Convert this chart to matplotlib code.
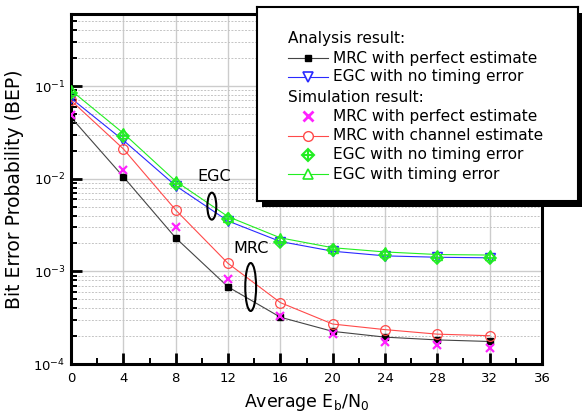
import numpy as np
import matplotlib
matplotlib.use("Agg")
import matplotlib.pyplot as plt
from matplotlib.patches import Ellipse, Rectangle
from matplotlib.ticker import LogLocator, MultipleLocator, NullFormatter

plt.rcParams['font.family'] = ['DejaVu Sans']
plt.rcParams['mathtext.fontset'] = 'dejavusans'

# Eb/N0 points (dB)
snr = [0, 4, 8, 12, 16, 20, 24, 28, 32]

# analysis
mrc_perfect_ana = [0.046, 0.0105, 0.0023, 0.00068, 0.00032, 0.000225, 0.000195, 0.000182, 0.000175]
egc_no_timing_ana = [0.074, 0.026, 0.0084, 0.0035, 0.0021, 0.00165, 0.00147, 0.00142, 0.0014]

# simulation
mrc_perfect_sim = [0.049, 0.0125, 0.003, 0.00082, 0.00033, 0.00021, 0.000172, 0.00016, 0.00015]
mrc_channel_sim = [0.07, 0.021, 0.0046, 0.00122, 0.00046, 0.00027, 0.000235, 0.00021, 0.000202]
egc_no_timing_sim = [0.085, 0.029, 0.0088, 0.0037, 0.0021, 0.0017, 0.0015, 0.0014, 0.00138]
egc_timing_sim = [0.09, 0.031, 0.0094, 0.0039, 0.0023, 0.0018, 0.00162, 0.00152, 0.0015]

W, H = 582, 417
fig = plt.figure(figsize=(W / 100, H / 100), dpi=100)
ax = fig.add_axes([71 / W, (H - 364) / H, 471 / W, 350 / H])

GREEN = '#22ee22'
RED = '#ff4a4a'
BLUE = '#2a2aff'
MAG = '#ff22ff'

ax.plot(snr, mrc_perfect_ana, color='#444444', lw=0.8, marker='s', ms=5, mfc='black', mec='black', zorder=4)
ax.plot(snr, egc_no_timing_ana, color=BLUE, lw=0.8, marker='v', ms=7, mfc='none', mec=BLUE, mew=1.0, zorder=4)
ax.plot(snr, mrc_perfect_sim, ls='none', marker='x', ms=6, mec=MAG, mew=1.6, zorder=5)
ax.plot(snr, mrc_channel_sim, color=RED, lw=0.8, marker='o', ms=7, mfc='none', mec=RED, mew=0.9, zorder=4)
ax.plot(snr, egc_no_timing_sim, ls='none', marker='D', ms=6, mfc='none', mec=GREEN, mew=1.2, zorder=5)
ax.plot(snr, egc_no_timing_sim, ls='none', marker='+', ms=7, mec=GREEN, mew=1.2, zorder=5)
ax.plot(snr, egc_timing_sim, color=GREEN, lw=0.8, marker='^', ms=7, mfc='none', mec=GREEN, mew=1.0, zorder=4)

ax.set_yscale('log')
ax.set_xlim(0, 36)
ax.set_ylim(1e-4, 0.6)
ax.xaxis.set_major_locator(MultipleLocator(4))
ax.xaxis.set_minor_locator(MultipleLocator(2))
ax.yaxis.set_major_locator(LogLocator(base=10, numticks=10))
ax.yaxis.set_minor_locator(LogLocator(base=10, subs=np.arange(2, 10), numticks=20))
ax.yaxis.set_minor_formatter(NullFormatter())

ax.grid(which='major', color='#cccccc', lw=1.0, ls='-')
ax.grid(which='minor', axis='y', color='#c4c4c4', lw=0.7, ls=(0, (2, 1.5)))
ax.set_axisbelow(True)

for s in ax.spines.values():
    s.set_linewidth(2.2)
ax.tick_params(which='major', direction='in', length=8, width=2.0, labelsize=9.5, pad=6)
ax.tick_params(which='minor', direction='in', length=4, width=1.4)
ax.tick_params(axis='y', which='major', pad=4)

ax.set_ylabel('Bit Error Probability (BEP)', fontsize=13.5, labelpad=7)
ax.set_xlabel(r'Average E$_\mathregular{b}$/N$_\mathregular{0}$', fontsize=12.5, labelpad=5)

# annotations
ax.text(0.305, 0.537, 'EGC', transform=ax.transAxes, fontsize=11.5, ha='center', va='center')
ax.add_patch(Ellipse((0.299, 0.451), 0.019, 0.077, transform=ax.transAxes, fill=False, lw=1.5, ec='black', zorder=6))
ax.text(0.3825, 0.329, 'MRC', transform=ax.transAxes, fontsize=11.5, ha='center', va='center')
ax.add_patch(Ellipse((0.3815, 0.22), 0.023, 0.137, transform=ax.transAxes, fill=False, lw=1.5, ec='black', zorder=6))

# legend box with shadow
bx, by, bw, bh = 257, 7, 321, 194
fig.patches.append(Rectangle(((bx + 5) / W, (H - by - bh - 6) / H), bw / W, bh / H,
                             transform=fig.transFigure, fc='black', ec='none', zorder=8))
lax = fig.add_axes([bx / W, (H - by - bh) / H, bw / W, bh / H], zorder=10)
lax.set_xlim(0, bw)
lax.set_ylim(bh, 0)
lax.set_xticks([])
lax.set_yticks([])
for s in lax.spines.values():
    s.set_linewidth(1.5)

x0, x1, xm, xt = 31, 71, 51, 76
fs = 11.1
rows = [31, 51, 70, 90, 109, 129, 148, 167]
lax.text(x0, rows[0], 'Analysis result:', fontsize=fs, va='center')
lax.plot([x0, x1], [rows[1]] * 2, color='#444444', lw=0.8)
lax.plot([xm], [rows[1]], marker='s', ms=5, color='black')
lax.text(xt, rows[1], 'MRC with perfect estimate', fontsize=fs, va='center')
lax.plot([x0, x1], [rows[2]] * 2, color=BLUE, lw=0.8)
lax.plot([xm], [rows[2]], marker='v', ms=7, mfc='white', mec=BLUE, mew=1.2)
lax.text(xt, rows[2], 'EGC with no timing error', fontsize=fs, va='center')
lax.text(x0, rows[3], 'Simulation result:', fontsize=fs, va='center')
lax.plot([xm], [rows[4]], marker='x', ms=7, mec=MAG, mew=2.0)
lax.text(xt, rows[4], 'MRC with perfect estimate', fontsize=fs, va='center')
lax.plot([x0, x1], [rows[5]] * 2, color=RED, lw=0.8)
lax.plot([xm], [rows[5]], marker='o', ms=7, mfc='white', mec=RED, mew=1.0)
lax.text(xt, rows[5], 'MRC with channel estimate', fontsize=fs, va='center')
lax.plot([xm], [rows[6]], marker='D', ms=6, mfc='none', mec=GREEN, mew=1.5)
lax.plot([xm], [rows[6]], marker='+', ms=7, mec=GREEN, mew=1.5)
lax.text(xt, rows[6], 'EGC with no timing error', fontsize=fs, va='center')
lax.plot([x0, x1], [rows[7]] * 2, color=GREEN, lw=0.8)
lax.plot([xm], [rows[7]], marker='^', ms=7, mfc='white', mec=GREEN, mew=1.2)
lax.text(xt, rows[7], 'EGC with timing error', fontsize=fs, va='center')

fig.savefig('out.png', dpi=100)
